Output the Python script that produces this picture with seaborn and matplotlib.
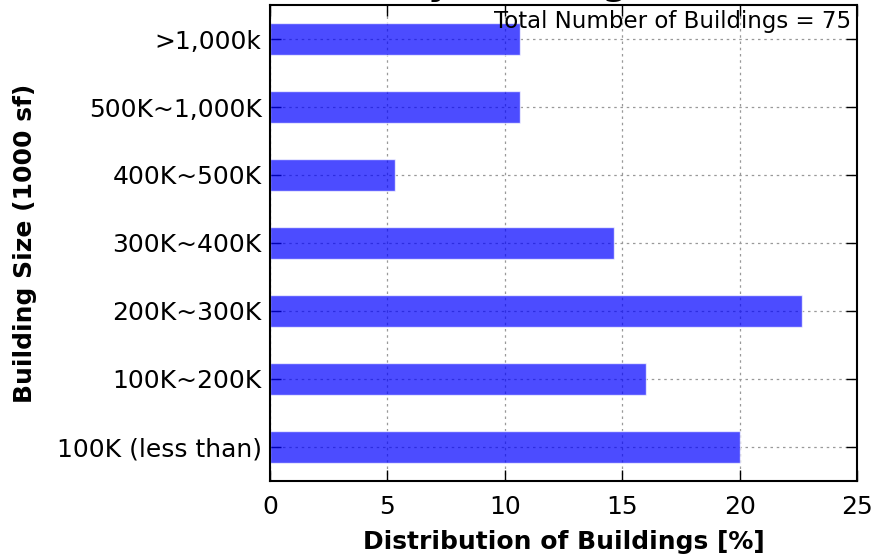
import matplotlib
matplotlib.use("Agg")
import matplotlib.pyplot as plt
import seaborn as sns
import pandas as pd

# building size bins, top to bottom as drawn
sizes = [">1,000k", "500K~1,000K", "400K~500K", "300K~400K",
         "200K~300K", "100K~200K", "100K (less than)"]
counts = [8, 8, 4, 11, 17, 12, 15]
total = sum(counts)
pct = [c / total * 100 for c in counts]

df = pd.DataFrame({"size": sizes, "pct": pct})

sns.set_style("white")
plt.rcParams['font.family'] = ['DejaVu Sans']
plt.rcParams['text.color'] = 'black'
plt.rcParams['axes.labelcolor'] = 'black'
plt.rcParams['xtick.color'] = 'black'
plt.rcParams['ytick.color'] = 'black'

fig = plt.figure(figsize=(8.73, 5.58), dpi=100)
ax = fig.add_axes([270 / 873, 1 - 481 / 558, (857 - 270) / 873, (481 - 5) / 558])

sns.barplot(data=df, x="pct", y="size", orient="h", color="blue", alpha=0.7,
            saturation=1, width=0.47, ax=ax)

ax.set_xlim(0, 25)
ax.set_ylim(6.5, -0.5)
ax.set_xticks([0, 5, 10, 15, 20, 25])
ax.grid(True, color="0.6", linestyle=(0, (2, 3)), linewidth=0.9)
ax.set_axisbelow(True)
for s in ax.spines.values():
    s.set_color("black")
    s.set_linewidth(1.5)
ax.tick_params(axis="both", direction="in", length=8, width=1.0, labelsize=18,
               top=True, right=True, bottom=True, left=True)
ax.tick_params(axis="x", pad=10)
ax.tick_params(axis="y", pad=6)

ax.set_xlabel("Distribution of Buildings [%]", fontsize=18, fontweight="bold", labelpad=8)
ax.set_ylabel("Building Size (1000 sf)", fontsize=18, fontweight="bold", labelpad=14)

# title sits mostly above the top edge, as in the original crop
fig.text(152 / 873, 1 + 5 / 558, "Distribution by Building Size", fontsize=25.5,
         fontweight="bold", ha="left", va="baseline")

ax.text(0.99, 0.99, "Total Number of Buildings = %d" % total, transform=ax.transAxes,
        ha="right", va="top", fontsize=16.5)

fig.savefig("out.png", dpi=100)
